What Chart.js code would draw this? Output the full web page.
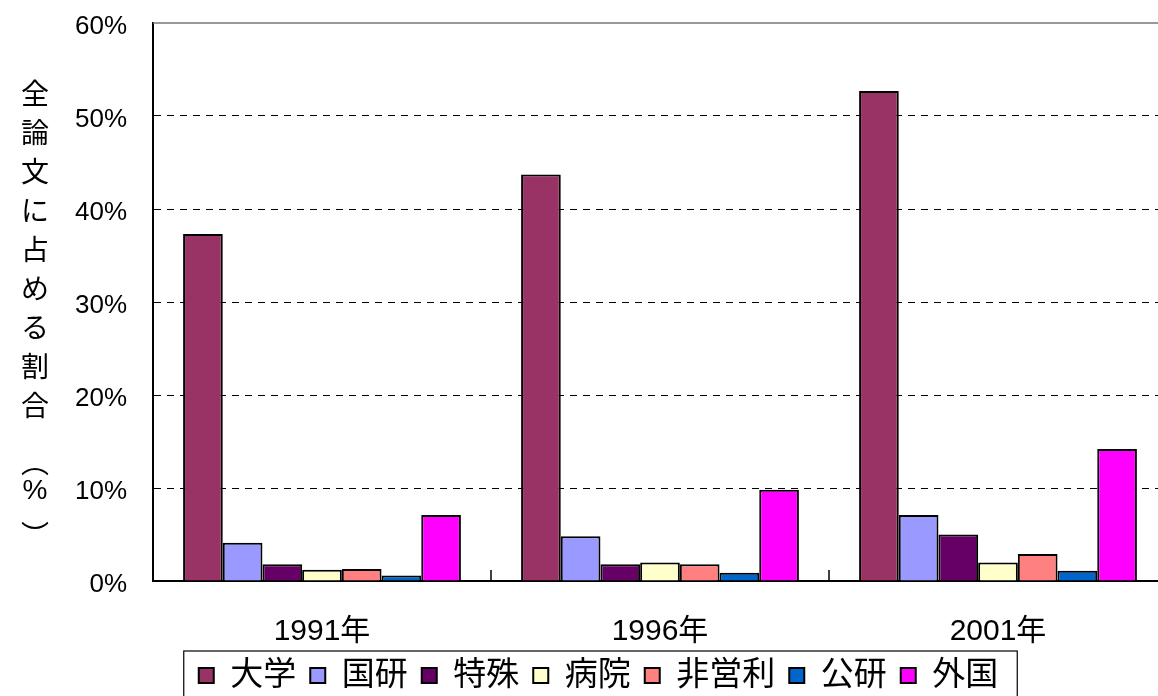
<!DOCTYPE html>
<html lang="ja">
<head>
<meta charset="UTF-8">
<title>全論文に占める割合</title>
<script src="https://cdn.jsdelivr.net/npm/chart.js"></script>
<style>
  html, body { margin: 0; padding: 0; overflow: hidden; background: #fff; }
  canvas { display: block; }
</style>
</head>
<body>
<canvas id="chart" width="1170" height="696"></canvas>
<script>
// data (% of all papers)
const years = ['1991年', '1996年', '2001年'];
const sectors = ['大学', '国研', '特殊', '病院', '非営利', '公研', '外国'];
const daigaku = [37.3, 43.7, 52.7];
const kokken = [4.1, 4.8, 7.1];
const tokushu = [1.8, 1.8, 5.0];
const byoin = [1.2, 2.0, 2.0];
const hieiri = [1.3, 1.8, 2.9];
const koken = [0.6, 0.9, 1.1];
const gaikoku = [7.1, 9.8, 14.2];
const yTicks = [0, 10, 20, 30, 40, 50, 60];
const yTitle = ['全', '論', '文', 'に', '占', 'め', 'る', '割', '合', '︵', '%', '︶'];

const colors = ['#993366', '#9999FF', '#660066', '#FFFFCC', '#FF8080', '#0066CC', '#FF00FF'];
const series = [daigaku, kokken, tokushu, byoin, hieiri, koken, gaikoku];
const FONT = "'Liberation Sans', 'Noto Sans CJK JP', sans-serif";

const extras = {
  id: 'extras',
  afterDraw(chart) {
    const ctx = chart.ctx;
    const area = chart.chartArea;
    const x = chart.scales.x;
    const y = chart.scales.y;
    ctx.save();

    // solid top line at 60%
    ctx.strokeStyle = '#777';
    ctx.lineWidth = 1.5;
    ctx.beginPath();
    ctx.moveTo(area.left, y.getPixelForValue(60));
    ctx.lineTo(area.right, y.getPixelForValue(60));
    ctx.stroke();

    // small inner tick marks between categories
    ctx.strokeStyle = '#000';
    ctx.lineWidth = 1.5;
    for (let i = 0; i < years.length - 1; i++) {
      const bx = (x.getPixelForValue(i) + x.getPixelForValue(i + 1)) / 2;
      ctx.beginPath();
      ctx.moveTo(bx, area.bottom);
      ctx.lineTo(bx, area.bottom - 11);
      ctx.stroke();
    }

    // vertical axis title, stacked characters
    ctx.fillStyle = '#000';
    ctx.textAlign = 'center';
    ctx.textBaseline = 'middle';
    ctx.font = "28px 'Noto Sans CJK JP', sans-serif";
    yTitle.forEach((ch, i) => {
      let cy = 93 + 39 * i;
      if (ch === '︵') cy = 462;
      if (ch === '%') { cy = 491; ctx.font = "28px 'Liberation Sans', sans-serif"; }
      if (ch === '︶') { cy = 535; ctx.font = "28px 'Noto Sans CJK JP', sans-serif"; }
      ctx.fillText(ch, 35, cy);
    });

    // frame around legend
    const hb = chart.legend.legendHitBoxes;
    if (hb && hb.length) {
      const first = hb[0], last = hb[hb.length - 1];
      ctx.strokeStyle = '#000';
      ctx.lineWidth = 1.2;
      ctx.strokeRect(first.left - 15, first.top - 8,
        last.left + last.width - first.left + 34, first.height + 60);
    }
    ctx.restore();
  }
};

const ctx = document.getElementById('chart').getContext('2d');
new Chart(ctx, {
  type: 'bar',
  data: {
    labels: years,
    datasets: sectors.map((name, i) => ({
      label: name,
      data: series[i],
      backgroundColor: colors[i],
      borderColor: '#000',
      borderWidth: 2,
      categoryPercentage: 0.822,
      barPercentage: 1.0
    }))
  },
  options: {
    responsive: false,
    animation: false,
    layout: { padding: { top: 23, right: 3, bottom: -6, left: 30 } },
    plugins: {
      tooltip: { enabled: false },
      legend: {
        position: 'bottom',
        labels: {
          color: '#000',
          font: { family: FONT, size: 33 },
          boxWidth: 15,
          boxHeight: 15,
          padding: 14
        }
      }
    },
    scales: {
      x: {
        grid: { display: false },
        border: { color: '#000', width: 2 },
        ticks: { color: '#000', font: { family: FONT, size: 30, lineHeight: 0.9 }, padding: 29 },
        afterFit(scale) { scale.height = 64; }
      },
      y: {
        min: 0,
        max: 60,
        afterBuildTicks(scale) { scale.ticks = yTicks.map(v => ({ value: v })); },
        grid: {
          drawTicks: true,
          tickLength: 26,
          tickColor: 'rgba(0,0,0,0)',
          lineWidth: 1,
          color: c => (c.tick.value === 0 || c.tick.value === 60) ? 'rgba(0,0,0,0)' : '#000'
        },
        border: { color: '#000', width: 2, dash: [7, 6] },
        ticks: {
          color: '#000',
          font: { family: FONT, size: 26 },
          padding: 0,
          labelOffset: 4,
          callback: v => v + '%'
        },
        afterFit(scale) { scale.width = 123; }
      }
    }
  },
  plugins: [extras]
});
</script>
</body>
</html>
